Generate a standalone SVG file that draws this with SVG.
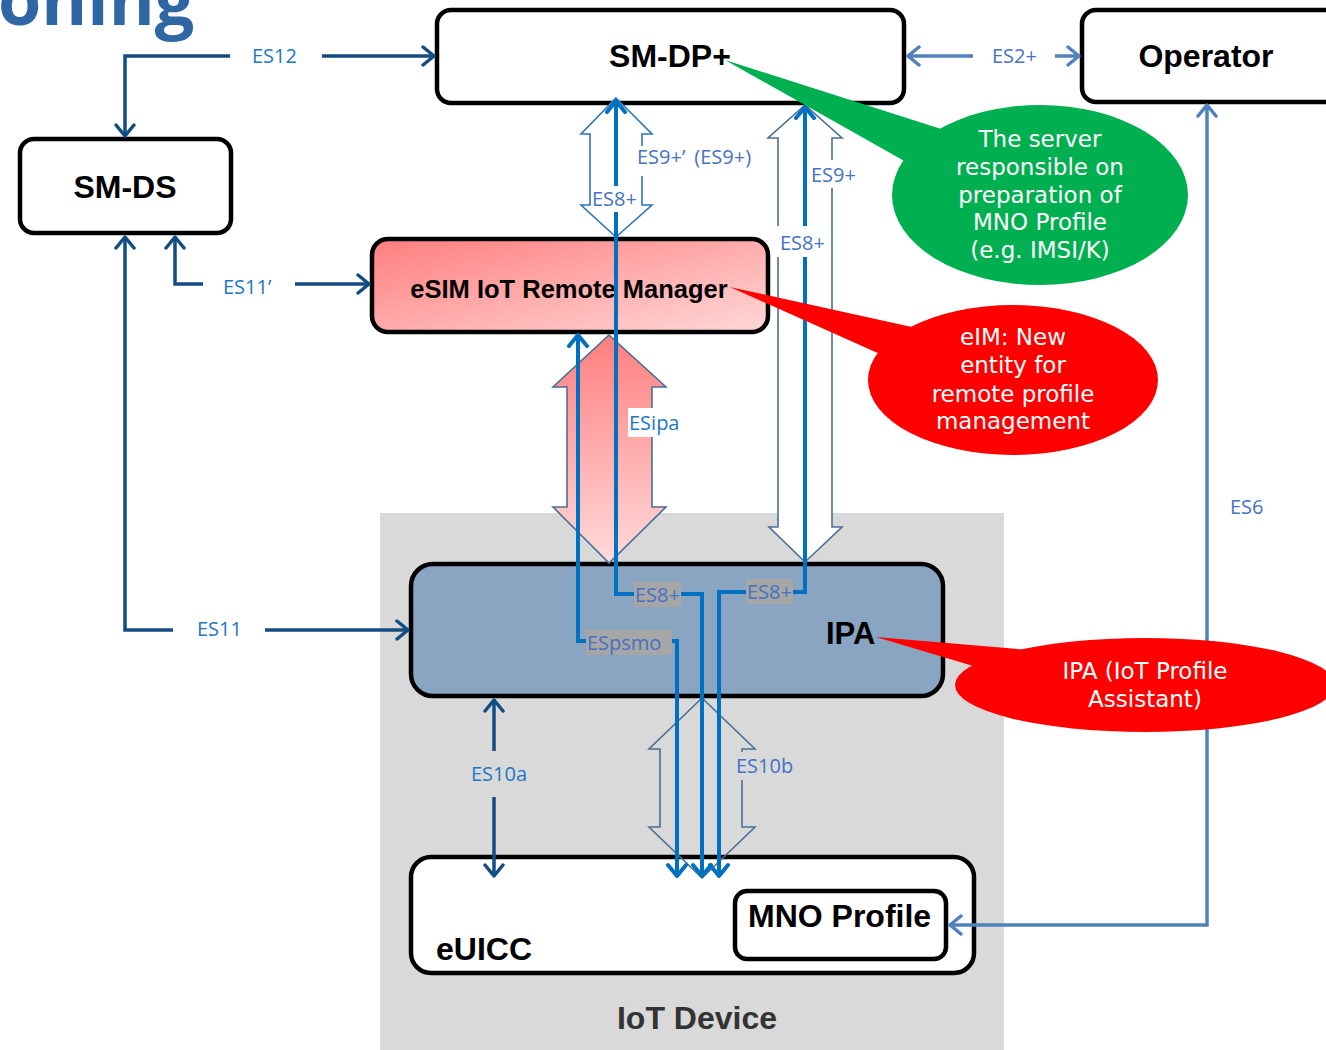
<svg xmlns="http://www.w3.org/2000/svg" width="1326" height="1050" viewBox="0 0 1326 1050">
<style>
.node{fill:#fff;stroke:#000;stroke-width:4.5}
.nt{font-family:"Liberation Sans",Arial,sans-serif;font-weight:bold;fill:#000}
.lbl{font-family:"Open Sans","Noto Sans",sans-serif;font-size:20px}
.c1{fill:#1F77C4}
.c2{fill:#4472C4}
.navy{fill:none;stroke:#134C83;stroke-width:3.5}
.steel{fill:none;stroke:#4F81BD;stroke-width:3.5}
.blue{fill:none;stroke:#0070C0;stroke-width:4}
.blk{stroke:#4A6F96;stroke-width:1.6}
.co{font-family:"DejaVu Sans",sans-serif;font-size:23px;fill:#fff;text-anchor:middle}
</style>
<defs>
<linearGradient id="gEim" x1="0" y1="0" x2="1" y2="1"><stop offset="0" stop-color="#FF7E7E"/><stop offset="1" stop-color="#FFD8D8"/></linearGradient>
<linearGradient id="gIpa" x1="0" y1="0" x2="0" y2="1"><stop offset="0" stop-color="#FF7E7E"/><stop offset="1" stop-color="#FFDADA"/></linearGradient>
<marker id="aNavy" viewBox="-14 -11 16 22" markerWidth="16" markerHeight="22" refX="0" refY="0" orient="auto-start-reverse" markerUnits="userSpaceOnUse"><path d="M-11,-9 L0,0 L-11,9" fill="none" stroke="#134C83" stroke-width="3.5" stroke-linecap="round" stroke-linejoin="round"/></marker>
<marker id="aSteel" viewBox="-14 -11 16 22" markerWidth="16" markerHeight="22" refX="0" refY="0" orient="auto-start-reverse" markerUnits="userSpaceOnUse"><path d="M-11,-9 L0,0 L-11,9" fill="none" stroke="#4F81BD" stroke-width="3.5" stroke-linecap="round" stroke-linejoin="round"/></marker>
<marker id="aBlue" viewBox="-14 -11 16 22" markerWidth="16" markerHeight="22" refX="0" refY="0" orient="auto-start-reverse" markerUnits="userSpaceOnUse"><path d="M-11,-9 L0,0 L-11,9" fill="none" stroke="#0070C0" stroke-width="4" stroke-linecap="round" stroke-linejoin="round"/></marker>
</defs>

<text x="-2" y="25" font-family="'Open Sans','Noto Sans',sans-serif" font-weight="bold" font-size="70" fill="#2E67A4">oning</text>

<g id="iot-device">
<rect x="380" y="513" width="624" height="537" fill="#D9D9D9"/>
<text class="nt" x="697" y="1029" font-size="32" text-anchor="middle" style="fill:#333">IoT Device</text>
</g>

<g id="sm-dp">
<rect class="node" x="437" y="10" width="467" height="93" rx="14"/>
<text class="nt" x="670" y="67" font-size="32" text-anchor="middle">SM-DP+</text>
</g>
<g id="operator">
<rect class="node" x="1082" y="10" width="262" height="92" rx="14"/>
<text class="nt" x="1206" y="67" font-size="32" text-anchor="middle">Operator</text>
</g>
<g id="sm-ds">
<rect class="node" x="20" y="139" width="211" height="94" rx="14"/>
<text class="nt" x="125" y="198" font-size="32" text-anchor="middle">SM-DS</text>
</g>
<g id="eim">
<rect x="372" y="239" width="396" height="93" rx="16" fill="url(#gEim)" stroke="#000" stroke-width="4.5"/>
<text class="nt" x="569" y="298" font-size="25.5" text-anchor="middle">eSIM IoT Remote Manager</text>
</g>
<g id="ipa">
<rect x="411" y="564" width="532" height="132" rx="22" fill="#89A5C1" stroke="#000" stroke-width="4.5"/>
<text class="nt" x="826" y="644" font-size="31">IPA</text>
</g>
<g id="euicc">
<rect class="node" x="411" y="857" width="563" height="116" rx="20"/>
<text class="nt" x="436" y="960" font-size="32">eUICC</text>
</g>
<g id="mno-profile">
<rect class="node" x="735" y="891" width="211" height="68" rx="12"/>
<text class="nt" x="748" y="927" font-size="32">MNO Profile</text>
</g>

<g id="connectors">
<path class="blk" fill="#fff" style="stroke:#2E75B6" d="M616,98 L652,134 L642,134 L642,205 L652,205 L616,237 L581,205 L590,205 L590,134 L581,134 Z"/>
<path class="blk" fill="#fff" d="M805,105 L842,138 L832,138 L832,527 L842,527 L805,562 L769,527 L778,527 L778,138 L768,138 Z"/>
<path class="blk" fill="url(#gIpa)" d="M609,335 L666,387 L652,387 L652,507 L666,507 L609,563 L553,507 L567,507 L567,387 L553,387 Z"/>
<path class="blk" fill="none" d="M702,698 L755,749 L742,749 L742,827 L755,827 L702,878 L649,827 L660,827 L660,749 L649,749 Z"/>

<path class="navy" d="M230,56 H125 V136" marker-end="url(#aNavy)"/>
<path class="navy" d="M322,56 H434" marker-end="url(#aNavy)"/>
<path class="navy" d="M203,284 H175 V237" marker-end="url(#aNavy)"/>
<path class="navy" d="M295,284 H369" marker-end="url(#aNavy)"/>
<path class="navy" d="M173,630 H125 V237" marker-end="url(#aNavy)"/>
<path class="navy" d="M265,630 H408" marker-end="url(#aNavy)"/>
<path class="navy" d="M494,751 V700" marker-end="url(#aNavy)"/>
<path class="navy" d="M494,797 V876" marker-end="url(#aNavy)"/>
<path class="steel" d="M973,56 H908" marker-end="url(#aSteel)"/>
<path class="steel" d="M1055,56 H1079" marker-end="url(#aSteel)"/>
<path class="steel" d="M950,925 H1207 V105" marker-start="url(#aSteel)" marker-end="url(#aSteel)"/>
<path class="blue" d="M616,101 V594 H702 V876" marker-start="url(#aBlue)" marker-end="url(#aBlue)"/>
<path class="blue" d="M805,107 V592 H719 V876" marker-start="url(#aBlue)" marker-end="url(#aBlue)"/>
<path class="blue" d="M578,335 V641 H677 V876" marker-start="url(#aBlue)" marker-end="url(#aBlue)"/>

<text class="lbl c1" x="252" y="63">ES12</text>
<text class="lbl c1" x="223" y="294">ES11’</text>
<text class="lbl c1" x="197" y="636">ES11</text>
<text class="lbl c1" x="471" y="781">ES10a</text>
<text class="lbl c2" x="992" y="63">ES2+</text>
<text class="lbl c2" x="1230" y="514">ES6</text>
<rect x="636" y="146" width="122" height="30" fill="#fff"/>
<text class="lbl c2" x="637" y="164">ES9+’<tspan dx="9">(ES9+)</tspan></text>
<rect x="592" y="186" width="46" height="26" fill="#fff"/>
<text class="lbl c2" x="592" y="206">ES8+</text>
<rect x="809" y="160" width="48" height="28" fill="#fff"/>
<text class="lbl c2" x="811" y="182">ES9+</text>
<rect x="777" y="226" width="52" height="31" fill="#fff"/>
<text class="lbl c2" x="780" y="250">ES8+</text>
<rect x="628" y="408" width="51" height="29" fill="#fff"/>
<text class="lbl c1" x="629" y="430">ESipa</text>
<rect x="734" y="752" width="62" height="28" fill="#D9D9D9"/>
<text class="lbl c2" x="736" y="773">ES10b</text>
<rect x="634" y="582" width="47" height="25" fill="#A6A6A6"/>
<text class="lbl c2" x="635" y="602">ES8+</text>
<rect x="746" y="579" width="47" height="25" fill="#A6A6A6"/>
<text class="lbl c2" x="747" y="599">ES8+</text>
<rect x="586" y="630" width="86" height="25" fill="#A6A6A6"/>
<text class="lbl c2" x="587" y="650">ESpsmo</text>
</g>

<g id="callout-smdp">
<polygon points="725,60 960,135 915,167" fill="#00B050"/>
<ellipse cx="1040" cy="195" rx="148" ry="90" fill="#00B050"/>
<text class="co" x="1040" y="147">The server<tspan x="1040" dy="28">responsible on</tspan><tspan x="1040" dy="28">preparation of</tspan><tspan x="1040" dy="27">MNO Profile</tspan><tspan x="1040" dy="28">(e.g. IMSI/K)</tspan></text>
</g>
<g id="callout-eim">
<polygon points="730,287 930,331 900,363" fill="#FF0000"/>
<ellipse cx="1013" cy="380" rx="145" ry="75" fill="#FF0000"/>
<text class="co" x="1013" y="345">eIM: New<tspan x="1013" dy="28">entity for</tspan><tspan x="1013" dy="29">remote profile</tspan><tspan x="1013" dy="27">management</tspan></text>
</g>
<g id="callout-ipa">
<polygon points="876,637 1040,651 990,671" fill="#FF0000"/>
<ellipse cx="1145" cy="685" rx="190" ry="47" fill="#FF0000"/>
<text class="co" x="1145" y="679">IPA (IoT Profile<tspan x="1145" dy="28">Assistant)</tspan></text>
</g>
</svg>
